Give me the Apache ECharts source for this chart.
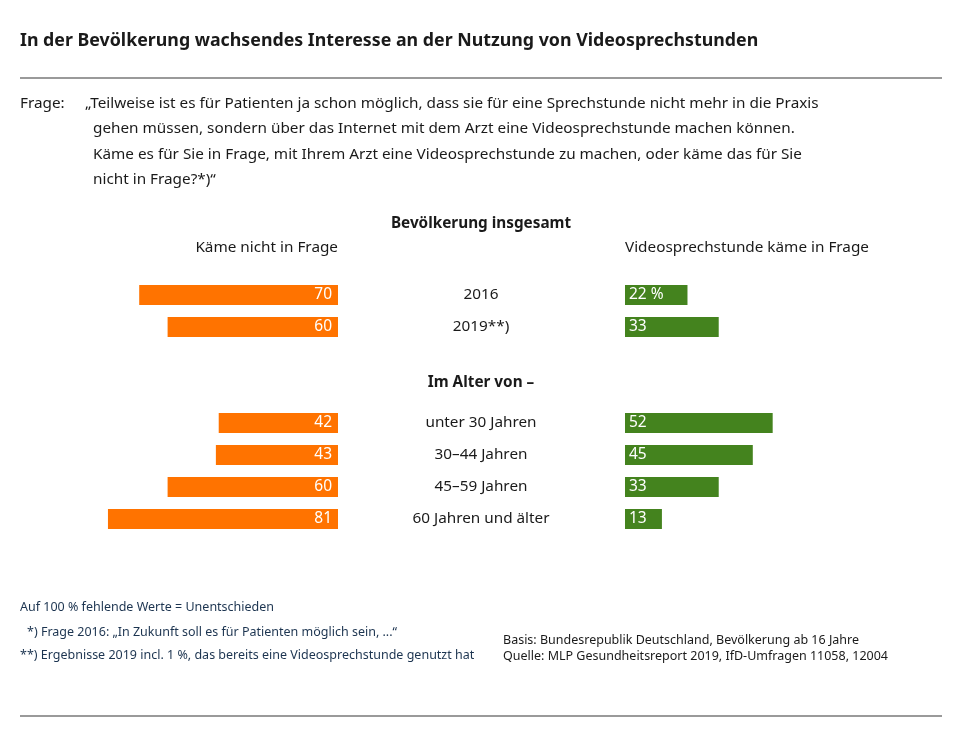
<!DOCTYPE html>
<html>
<head>
<meta charset="utf-8">
<style>
  html, body { margin: 0; padding: 0; background: #fff; }
  #chart { width: 960px; height: 736px; }
</style>
<script src="https://cdn.jsdelivr.net/npm/echarts@6/dist/echarts.min.js"></script>
</head>
<body>
<div id="chart"></div>
<script>
// Data
const categories = ['2016', '2019**)', '', '', 'unter 30 Jahren', '30–44 Jahren', '45–59 Jahren', '60 Jahren und älter'];
const notInQuestion = [70, 60, null, null, 42, 43, 60, 81];
const inQuestion = [22, 33, null, null, 52, 45, 33, 13];

const FONT = '"Noto Sans", "Open Sans", sans-serif';
const TEXT = '#1a1a1a';
const NOTE = '#1c3450';
const BODY = 15.3;

const chart = echarts.init(document.getElementById('chart'));

function txt(x, y, text, opts) {
    opts = opts || {};
    return {
        type: 'text',
        x: x,
        y: y,
        style: {
            text: text,
            font: (opts.weight || 'normal') + ' ' + (opts.size || BODY) + 'px ' + FONT,
            fill: opts.color || TEXT,
            textAlign: opts.align || 'left',
            textVerticalAlign: 'middle'
        }
    };
}

const option = {
    animation: false,
    textStyle: { fontFamily: FONT },
    grid: [
        { left: 54, width: 284, top: 279, height: 256 },
        { left: 625, width: 284, top: 279, height: 256 }
    ],
    xAxis: [
        { gridIndex: 0, type: 'value', min: 0, max: 100, inverse: true, show: false },
        { gridIndex: 1, type: 'value', min: 0, max: 100, show: false }
    ],
    yAxis: [
        {
            gridIndex: 0, type: 'category', data: categories, inverse: true,
            axisLine: { show: false }, axisTick: { show: false }, axisLabel: { show: false }
        },
        {
            gridIndex: 1, type: 'category', data: categories, inverse: true,
            axisLine: { show: false }, axisTick: { show: false },
            axisLabel: {
                margin: 144, align: 'center', color: TEXT, fontSize: BODY, fontFamily: FONT
            }
        }
    ],
    series: [
        {
            type: 'bar', xAxisIndex: 0, yAxisIndex: 0, data: notInQuestion,
            barWidth: 20,
            itemStyle: { color: '#ff7300' },
            label: {
                show: true, position: 'insideRight', distance: 6,
                color: '#fff', fontSize: 15.5, fontFamily: FONT
            }
        },
        {
            type: 'bar', xAxisIndex: 1, yAxisIndex: 1, data: inQuestion,
            barWidth: 20,
            itemStyle: { color: '#44831e' },
            label: {
                show: true, position: 'insideLeft', distance: 4,
                color: '#fff', fontSize: 15.5, fontFamily: FONT,
                formatter: function (p) { return p.dataIndex === 0 ? p.value + ' %' : p.value; }
            }
        }
    ],
    graphic: [
        txt(20, 41, 'In der Bevölkerung wachsendes Interesse an der Nutzung von Videosprechstunden', { size: 17.8, weight: 'bold' }),
        { type: 'line', shape: { x1: 20, y1: 78, x2: 942, y2: 78 }, style: { stroke: '#9a9a9a', lineWidth: 2 } },
        txt(20, 104, 'Frage:'),
        txt(85, 104, '„Teilweise ist es für Patienten ja schon möglich, dass sie für eine Sprechstunde nicht mehr in die Praxis'),
        txt(93, 129, 'gehen müssen, sondern über das Internet mit dem Arzt eine Videosprechstunde machen können.'),
        txt(93, 155, 'Käme es für Sie in Frage, mit Ihrem Arzt eine Videosprechstunde zu machen, oder käme das für Sie'),
        txt(93, 180, 'nicht in Frage?*)“'),
        txt(481, 224, 'Bevölkerung insgesamt', { weight: 'bold', align: 'center' }),
        txt(338, 248, 'Käme nicht in Frage', { align: 'right' }),
        txt(625, 248, 'Videosprechstunde käme in Frage'),
        txt(481, 383, 'Im Alter von –', { weight: 'bold', align: 'center' }),
        txt(20, 607, 'Auf 100 % fehlende Werte = Unentschieden', { size: 12.5, color: NOTE }),
        txt(27, 632, '*) Frage 2016: „In Zukunft soll es für Patienten möglich sein, ...“', { size: 12.5, color: NOTE }),
        txt(20, 655, '**) Ergebnisse 2019 incl. 1 %, das bereits eine Videosprechstunde genutzt hat', { size: 12.5, color: NOTE }),
        txt(503, 640, 'Basis: Bundesrepublik Deutschland, Bevölkerung ab 16 Jahre', { size: 12.5 }),
        txt(503, 656, 'Quelle: MLP Gesundheitsreport 2019, IfD-Umfragen 11058, 12004', { size: 12.5 }),
        { type: 'line', shape: { x1: 20, y1: 716, x2: 942, y2: 716 }, style: { stroke: '#9a9a9a', lineWidth: 2 } }
    ]
};

chart.setOption(option);
</script>
</body>
</html>
